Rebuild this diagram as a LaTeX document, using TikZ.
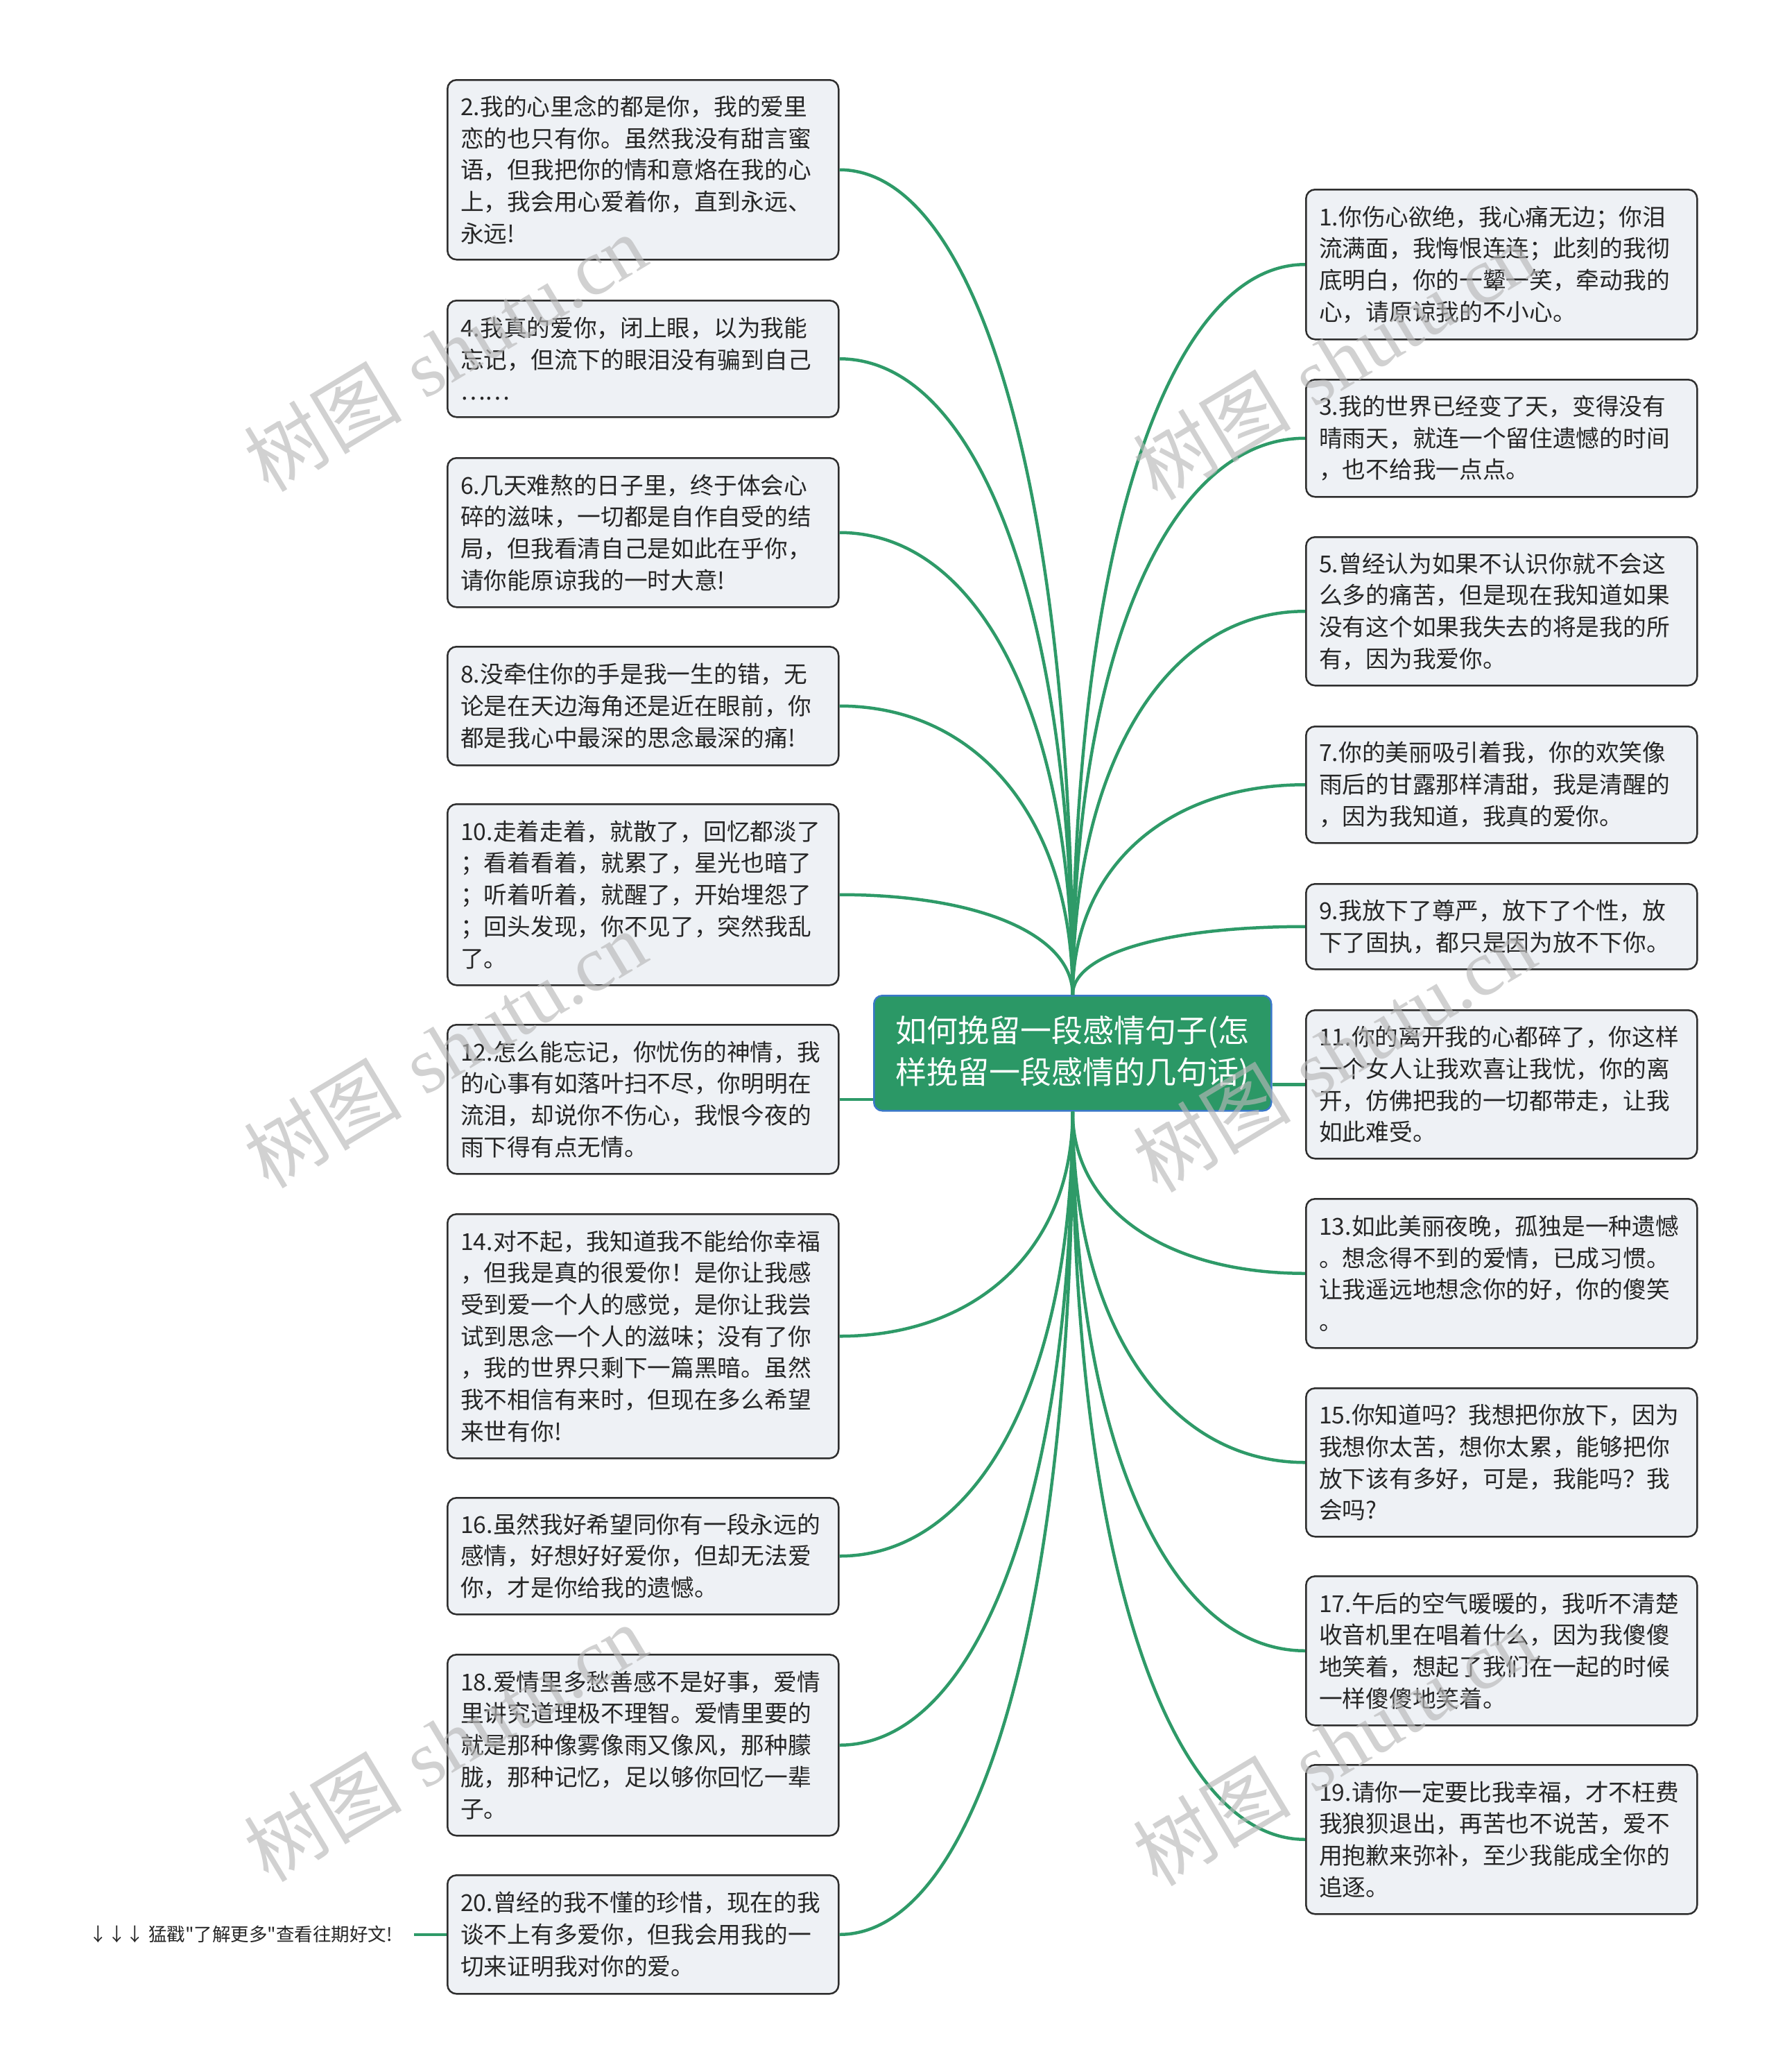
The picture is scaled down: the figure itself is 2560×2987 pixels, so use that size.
\documentclass[tikz,border=0pt]{standalone}
\usepackage{fontspec}
\setmainfont{Noto Sans CJK SC}
\newfontfamily\hintfont{Noto Sans CJK SC}
\newfontfamily\wmlatin{Liberation Serif}
\usetikzlibrary{calc}
\definecolor{edgegreen}{HTML}{2E9A68}
\definecolor{rootfill}{HTML}{2B9866}
\definecolor{rootline}{HTML}{3A78C8}
\definecolor{leaffill}{HTML}{EEF1F5}
\definecolor{leafline}{HTML}{2E2E2E}
\definecolor{leaftext}{HTML}{262626}
\definecolor{wmgray}{HTML}{B8B8B8}
\begin{document}
\begin{tikzpicture}[x=1pt,y=-1pt,
  leaf/.style={draw=leafline, fill=leaffill, line width=2.5pt, rounded corners=13pt,
    anchor=north west, text width=526pt, inner xsep=19pt, inner ysep=0pt,
    align=left, text=leaftext, font=\fontsize{33.7}{45.7}\selectfont},
  root/.style={draw=rootline, fill=rootfill, line width=2.5pt, rounded corners=12pt,
    anchor=north west, minimum width=573pt, minimum height=166pt, inner sep=0pt,
    align=center, text=white, font=\fontsize{45}{60}\selectfont},
  hint/.style={anchor=east, inner xsep=31pt, inner ysep=0pt, text=leaftext,
    font=\hintfont\fontsize{26.5}{30}\selectfont},
  edge/.style={draw=edgegreen, line width=4.5pt},
  wm/.style={text=wmgray, opacity=0.65, rotate=31, inner sep=0pt,
    font=\fontsize{114}{114}\selectfont}]
\useasboundingbox (0,0) rectangle (2560,2987);

% root
\node[root] (c) at (1259,1434) {如何挽留一段感情句子(怎\\样挽留一段感情的几句话)};

% left leaves
\node[leaf, minimum height=259pt] (L2) at (644,114) {2.我的心里念的都是你，我的爱里\\恋的也只有你。虽然我没有甜言蜜\\语，但我把你的情和意烙在我的心\\上，我会用心爱着你，直到永远、\\永远!};
\node[leaf, minimum height=168pt] (L4) at (644,432) {4.我真的爱你，闭上眼，以为我能\\忘记，但流下的眼泪没有骗到自己\\……};
\node[leaf, minimum height=215pt] (L6) at (644,659) {6.几天难熬的日子里，终于体会心\\碎的滋味，一切都是自作自受的结\\局，但我看清自己是如此在乎你，\\请你能原谅我的一时大意!};
\node[leaf, minimum height=171pt] (L8) at (644,931) {8.没牵住你的手是我一生的错，无\\论是在天边海角还是近在眼前，你\\都是我心中最深的思念最深的痛!};
\node[leaf, minimum height=261pt] (L10) at (644,1158) {10.走着走着，就散了，回忆都淡了\\；看着看着，就累了，星光也暗了\\；听着听着，就醒了，开始埋怨了\\；回头发现，你不见了，突然我乱\\了。};
\node[leaf, minimum height=215pt] (L12) at (644,1476) {12.怎么能忘记，你忧伤的神情，我\\的心事有如落叶扫不尽，你明明在\\流泪，却说你不伤心，我恨今夜的\\雨下得有点无情。};
\node[leaf, minimum height=352pt] (L14) at (644,1749) {14.对不起，我知道我不能给你幸福\\，但我是真的很爱你！是你让我感\\受到爱一个人的感觉，是你让我尝\\试到思念一个人的滋味；没有了你\\，我的世界只剩下一篇黑暗。虽然\\我不相信有来时，但现在多么希望\\来世有你!};
\node[leaf, minimum height=168pt] (L16) at (644,2158) {16.虽然我好希望同你有一段永远的\\感情，好想好好爱你，但却无法爱\\你，才是你给我的遗憾。};
\node[leaf, minimum height=261pt] (L18) at (644,2384) {18.爱情里多愁善感不是好事，爱情\\里讲究道理极不理智。爱情里要的\\就是那种像雾像雨又像风，那种朦\\胧，那种记忆，足以够你回忆一辈\\子。};
\node[leaf, minimum height=171pt] (L20) at (644,2702) {20.曾经的我不懂的珍惜，现在的我\\谈不上有多爱你，但我会用我的一\\切来证明我对你的爱。};

% right leaves
\node[leaf, minimum height=216pt] (R1) at (1882,272) {1.你伤心欲绝，我心痛无边；你泪\\流满面，我悔恨连连；此刻的我彻\\底明白，你的一颦一笑，牵动我的\\心，请原谅我的不小心。};
\node[leaf, minimum height=169pt] (R3) at (1882,546) {3.我的世界已经变了天，变得没有\\晴雨天，就连一个留住遗憾的时间\\，也不给我一点点。};
\node[leaf, minimum height=214pt] (R5) at (1882,773) {5.曾经认为如果不认识你就不会这\\么多的痛苦，但是现在我知道如果\\没有这个如果我失去的将是我的所\\有，因为我爱你。};
\node[leaf, minimum height=168pt] (R7) at (1882,1046) {7.你的美丽吸引着我，你的欢笑像\\雨后的甘露那样清甜，我是清醒的\\，因为我知道，我真的爱你。};
\node[leaf, minimum height=123pt] (R9) at (1882,1273) {9.我放下了尊严，放下了个性，放\\下了固执，都只是因为放不下你。};
\node[leaf, minimum height=214pt] (R11) at (1882,1455) {11.你的离开我的心都碎了，你这样\\一个女人让我欢喜让我忧，你的离\\开，仿佛把我的一切都带走，让我\\如此难受。};
\node[leaf, minimum height=215pt] (R13) at (1882,1727) {13.如此美丽夜晚，孤独是一种遗憾\\。想念得不到的爱情，已成习惯。\\让我遥远地想念你的好，你的傻笑\\。};
\node[leaf, minimum height=214pt] (R15) at (1882,2000) {15.你知道吗？我想把你放下，因为\\我想你太苦，想你太累，能够把你\\放下该有多好，可是，我能吗？我\\会吗?};
\node[leaf, minimum height=215pt] (R17) at (1882,2271) {17.午后的空气暖暖的，我听不清楚\\收音机里在唱着什么，因为我傻傻\\地笑着，想起了我们在一起的时候\\一样傻傻地笑着。};
\node[leaf, minimum height=215pt] (R19) at (1882,2543) {19.请你一定要比我幸福，才不枉费\\我狼狈退出，再苦也不说苦，爱不\\用抱歉来弥补，至少我能成全你的\\追逐。};

% hint
\node[hint] (h) at ([xshift=-47pt]L20.west) {↓↓↓ 猛戳"了解更多"查看往期好文!};

% connectors
\foreach \n in {L2,L4,L6,L8,L10}
  \draw[edge] (c.north) .. controls ($(c.north)!0.6!(c.north |- \n.east)$) and ($(\n.east)!0.6!(c.north |- \n.east)$) .. (\n.east);
\foreach \n in {R1,R3,R5,R7,R9}
  \draw[edge] (c.north) .. controls ($(c.north)!0.6!(c.north |- \n.west)$) and ($(\n.west)!0.6!(c.north |- \n.west)$) .. (\n.west);
\foreach \n in {L14,L16,L18,L20}
  \draw[edge] (c.south) .. controls ($(c.south)!0.6!(c.south |- \n.east)$) and ($(\n.east)!0.6!(c.south |- \n.east)$) .. (\n.east);
\foreach \n in {R13,R15,R17,R19}
  \draw[edge] (c.south) .. controls ($(c.south)!0.6!(c.south |- \n.west)$) and ($(\n.west)!0.6!(c.south |- \n.west)$) .. (\n.west);
\draw[edge] (c.west |- L12.east) -- (L12.east);
\draw[edge] (c.east |- R11.west) -- (R11.west);
\draw[edge] (h.east) -- (L20.west);

% watermark
\node[wm] (wm1) at (642,508) {树图\hspace{34pt}{\wmlatin shutu.cn}};
\node[wm] (wm2) at (642,1512) {树图\hspace{34pt}{\wmlatin shutu.cn}};
\node[wm] (wm3) at (642,2512) {树图\hspace{34pt}{\wmlatin shutu.cn}};
\node[wm] (wm4) at (1924,520) {树图\hspace{34pt}{\wmlatin shutu.cn}};
\node[wm] (wm5) at (1924,1518) {树图\hspace{34pt}{\wmlatin shutu.cn}};
\node[wm] (wm6) at (1924,2518) {树图\hspace{34pt}{\wmlatin shutu.cn}};
\end{tikzpicture}
\end{document}
